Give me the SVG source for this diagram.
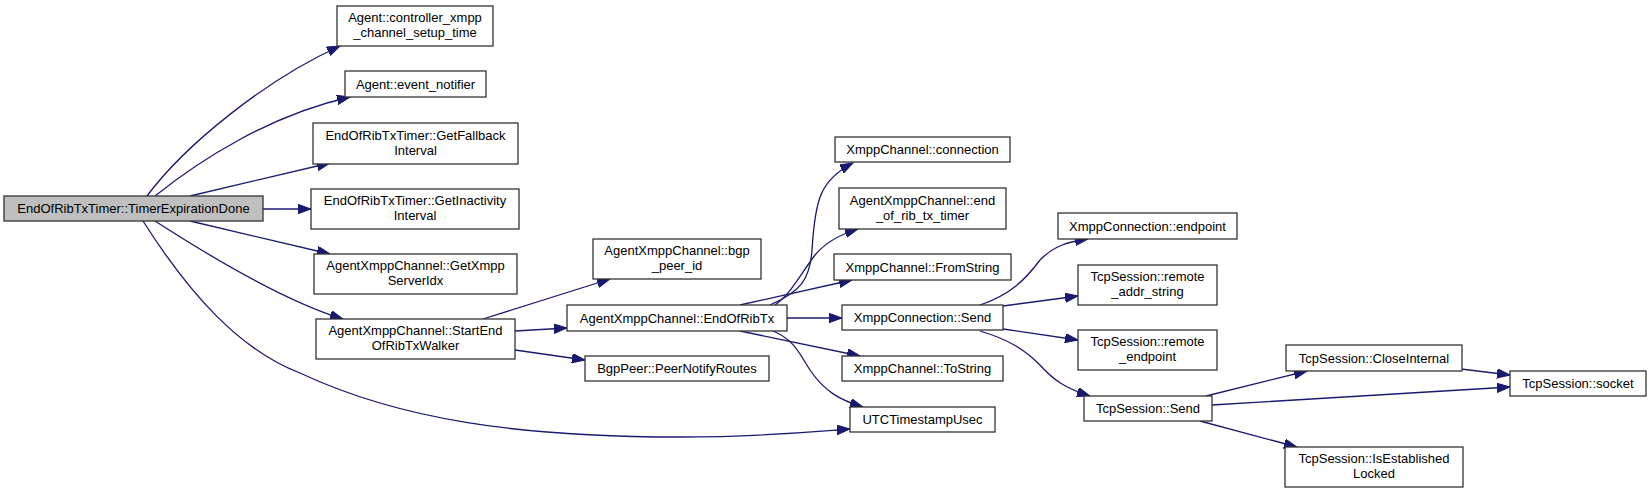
<svg xmlns="http://www.w3.org/2000/svg" width="1652" height="493" viewBox="0 0 1652 493">
<style>
.n rect{fill:#ffffff;stroke:#333333;stroke-width:1.3}
.n.main rect{fill:#bfbfbf}
.n text{font-family:"Liberation Sans",Arial,Helvetica,sans-serif;font-size:13px;fill:#000000;text-anchor:middle}
.e path{fill:none;stroke:#191970;stroke-width:1.3;marker-end:url(#ah)}
</style>
<defs>
<marker id="ah" markerUnits="userSpaceOnUse" markerWidth="14" markerHeight="10" refX="13" refY="4.7" orient="auto">
<path d="M0,0 L13,4.7 L0,9.4 z" fill="#191970" stroke="#191970" stroke-width="1"/>
</marker>
</defs>
<rect width="1652" height="493" fill="#ffffff"/>
<g id="edges" class="e">
<path d="M147,196 C185,145 265,80 340,46"/>
<path d="M155,196 C200,160 270,115 350,97"/>
<path d="M190,196 L330,163"/>
<path d="M263,209 L311,209"/>
<path d="M190,221 L330,254"/>
<path d="M155,221 C200,250 280,300 343,319"/>
<path d="M143,221 C190,295 240,350 300,373 C400,420 520,437 680,437 C760,437 810,432 850,429"/>
<path d="M483,319 L610,279"/>
<path d="M515,331 L567,328"/>
<path d="M515,350 L585,360"/>
<path d="M770,305 C800,292 810,280 812,250 C815,200 820,180 853,163"/>
<path d="M775,305 C790,295 800,275 815,255 C825,243 838,235 858,229"/>
<path d="M740,305 L852,280"/>
<path d="M787,318 L842,318"/>
<path d="M740,331 L860,356"/>
<path d="M773,331 C795,340 800,355 810,370 C825,392 840,400 863,407"/>
<path d="M980,305 C1010,295 1025,280 1040,260 C1055,245 1068,242 1088,239"/>
<path d="M1003,306 L1078,296"/>
<path d="M1003,329 L1078,340"/>
<path d="M980,331 C1010,340 1025,350 1040,365 C1055,382 1068,389 1090,396"/>
<path d="M1206,396 L1307,371"/>
<path d="M1212,405 L1510,387"/>
<path d="M1200,421 L1297,447"/>
<path d="M1461,369 L1510,375"/>
</g>
<g id="n_main" class="n main"><rect x="4" y="196" width="259" height="25"/><text x="133.5" y="213">EndOfRibTxTimer::TimerExpirationDone</text></g>
<g id="n_controller_xmpp" class="n"><rect x="337" y="6" width="156" height="40"/><text x="415" y="22">Agent::controller_xmpp</text><text x="415" y="37">_channel_setup_time</text></g>
<g id="n_event_notifier" class="n"><rect x="345" y="71" width="141" height="26"/><text x="415.5" y="88.5">Agent::event_notifier</text></g>
<g id="n_getfallback" class="n"><rect x="313" y="123" width="205" height="41"/><text x="415.5" y="139.5">EndOfRibTxTimer::GetFallback</text><text x="415.5" y="154.5">Interval</text></g>
<g id="n_getinactivity" class="n"><rect x="311" y="189" width="208" height="40"/><text x="415" y="205">EndOfRibTxTimer::GetInactivity</text><text x="415" y="220">Interval</text></g>
<g id="n_getxmppserveridx" class="n"><rect x="314" y="254" width="203" height="40"/><text x="415.5" y="270">AgentXmppChannel::GetXmpp</text><text x="415.5" y="285">ServerIdx</text></g>
<g id="n_startend" class="n"><rect x="316" y="319" width="199" height="40"/><text x="415.5" y="335">AgentXmppChannel::StartEnd</text><text x="415.5" y="350">OfRibTxWalker</text></g>
<g id="n_bgp_peer_id" class="n"><rect x="593" y="239" width="168" height="40"/><text x="677" y="255">AgentXmppChannel::bgp</text><text x="677" y="270">_peer_id</text></g>
<g id="n_endofribtx" class="n"><rect x="567" y="305" width="220" height="26"/><text x="677" y="322.5">AgentXmppChannel::EndOfRibTx</text></g>
<g id="n_peernotifyroutes" class="n"><rect x="585" y="356" width="184" height="25"/><text x="677" y="373">BgpPeer::PeerNotifyRoutes</text></g>
<g id="n_connection" class="n"><rect x="835" y="137" width="175" height="25"/><text x="922.5" y="154">XmppChannel::connection</text></g>
<g id="n_end_of_rib_tx_timer" class="n"><rect x="839" y="188" width="167" height="41"/><text x="922.5" y="204.5">AgentXmppChannel::end</text><text x="922.5" y="219.5">_of_rib_tx_timer</text></g>
<g id="n_fromstring" class="n"><rect x="834" y="254" width="177" height="26"/><text x="922.5" y="271.5">XmppChannel::FromString</text></g>
<g id="n_xmppconn_send" class="n"><rect x="842" y="305" width="161" height="25"/><text x="922.5" y="322">XmppConnection::Send</text></g>
<g id="n_tostring" class="n"><rect x="842" y="356" width="161" height="25"/><text x="922.5" y="373">XmppChannel::ToString</text></g>
<g id="n_utc" class="n"><rect x="850" y="407" width="145" height="25"/><text x="922.5" y="424">UTCTimestampUsec</text></g>
<g id="n_xmppconn_endpoint" class="n"><rect x="1058" y="213" width="179" height="26"/><text x="1147.5" y="230.5">XmppConnection::endpoint</text></g>
<g id="n_remote_addr_string" class="n"><rect x="1078" y="265" width="139" height="40"/><text x="1147.5" y="281">TcpSession::remote</text><text x="1147.5" y="296">_addr_string</text></g>
<g id="n_remote_endpoint" class="n"><rect x="1078" y="330" width="139" height="40"/><text x="1147.5" y="346">TcpSession::remote</text><text x="1147.5" y="361">_endpoint</text></g>
<g id="n_tcp_send" class="n"><rect x="1084" y="396" width="128" height="25"/><text x="1148" y="413">TcpSession::Send</text></g>
<g id="n_closeinternal" class="n"><rect x="1286" y="345" width="176" height="26"/><text x="1374" y="362.5">TcpSession::CloseInternal</text></g>
<g id="n_isestablished" class="n"><rect x="1285" y="447" width="178" height="40"/><text x="1374" y="463">TcpSession::IsEstablished</text><text x="1374" y="478">Locked</text></g>
<g id="n_socket" class="n"><rect x="1510" y="371" width="136" height="25"/><text x="1578" y="388">TcpSession::socket</text></g>
</svg>
